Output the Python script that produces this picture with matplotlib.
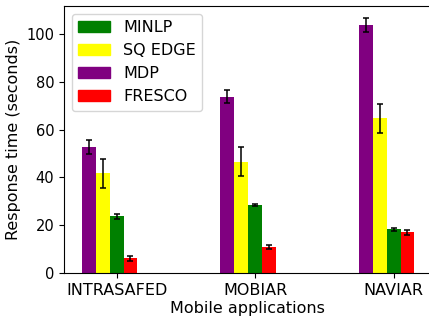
import numpy as np
import matplotlib
matplotlib.use("Agg")
import matplotlib.pyplot as plt
from matplotlib.patches import Patch

apps = ["INTRASAFED", "MOBIAR", "NAVIAR"]

# response times (s) and error bar half-widths per method
mdp = [52.8, 73.8, 104.0]
mdp_err = [2.8, 2.7, 2.9]
sq_edge = [41.7, 46.6, 64.7]
sq_edge_err = [6.1, 6.0, 6.0]
minlp = [23.8, 28.5, 18.3]
minlp_err = [1.0, 0.6, 0.7]
fresco = [6.1, 11.0, 17.0]
fresco_err = [0.9, 0.8, 1.0]

plt.rcParams["font.size"] = 11.5
plt.rcParams["ytick.labelsize"] = 10.5

fig = plt.figure(figsize=(4.29, 3.24), dpi=100)
ax = fig.add_axes([64 / 429, 51 / 324, 367 / 429, 267 / 324])

x = np.arange(len(apps))
w = 0.1
ekw = dict(capsize=2.5, ecolor="black", error_kw=dict(elinewidth=1.1, capthick=1.1))
ax.bar(x - 2 * w, mdp, w, yerr=mdp_err, color="purple", **ekw)
ax.bar(x - w, sq_edge, w, yerr=sq_edge_err, color="yellow", **ekw)
ax.bar(x, minlp, w, yerr=minlp_err, color="green", **ekw)
ax.bar(x + w, fresco, w, yerr=fresco_err, color="red", **ekw)

ax.set_xticks(x)
ax.set_xticklabels(apps)
ax.set_xlim(-0.38, 2.27)
ax.set_ylim(0, 111.8)
ax.set_xlabel("Mobile applications", labelpad=2)
ax.set_ylabel("Response time (seconds)")

handles = [Patch(color="green", label="MINLP"),
           Patch(color="yellow", label="SQ EDGE"),
           Patch(color="purple", label="MDP"),
           Patch(color="red", label="FRESCO")]
ax.legend(handles=handles, loc="upper left")

fig.savefig("out.png", dpi=100)
